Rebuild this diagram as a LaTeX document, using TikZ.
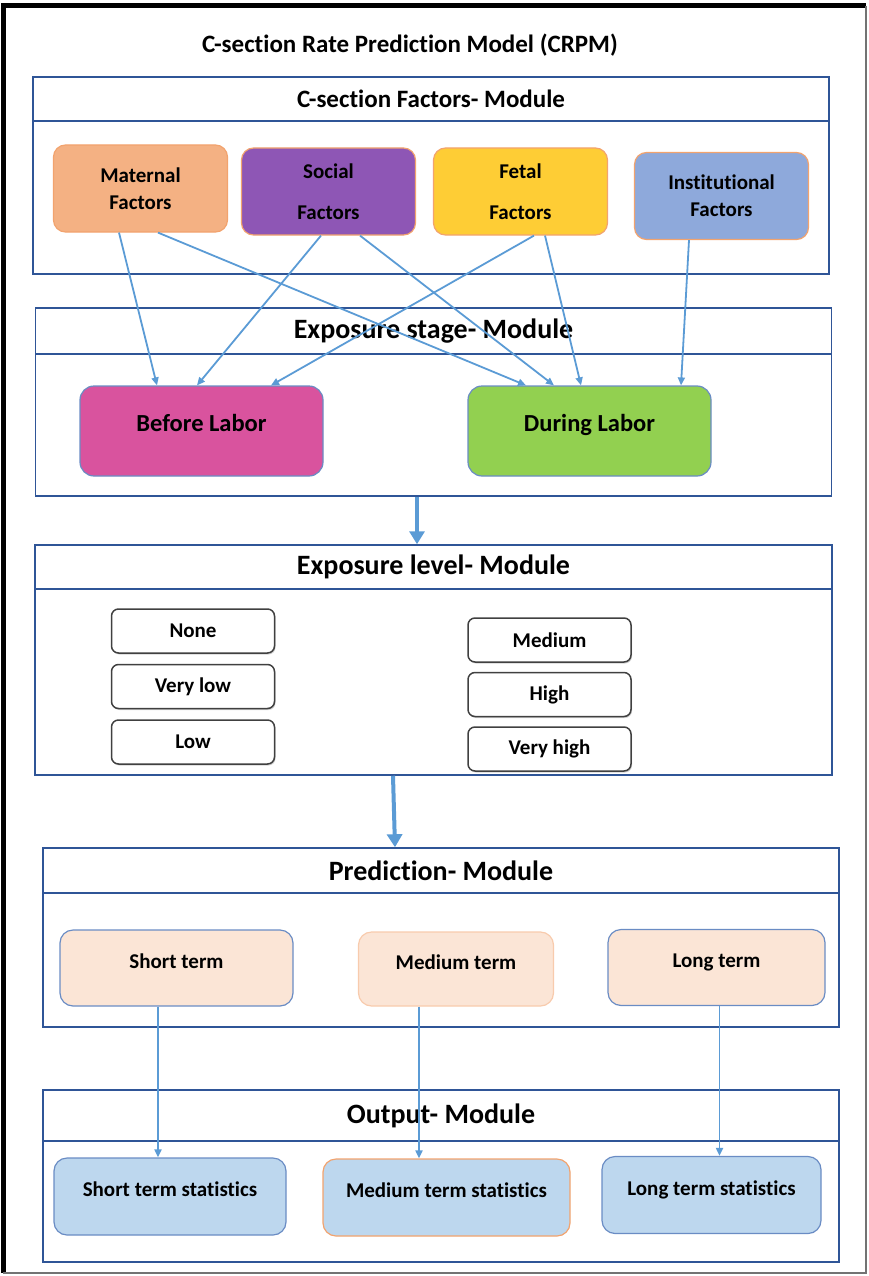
\documentclass[tikz,border=0pt]{standalone}
\usepackage{fontspec}
\setmainfont{Carlito}[Ligatures=NoCommon]
\usepackage{tikz}
\usetikzlibrary{arrows.meta,positioning,shadows}

\definecolor{modblue}{HTML}{2F5597}
\definecolor{arrowblue}{HTML}{5B9BD5}
\definecolor{edgeorange}{HTML}{F2A36E}
\definecolor{edgeblue}{HTML}{6A8CC4}
\definecolor{maternalfill}{HTML}{F4B183}
\definecolor{socialfill}{HTML}{8E56B5}
\definecolor{fetalfill}{HTML}{FECD35}
\definecolor{instfill}{HTML}{8EA9DB}
\definecolor{beforefill}{HTML}{D9539E}
\definecolor{duringfill}{HTML}{92D050}
\definecolor{peach}{HTML}{FBE5D6}
\definecolor{peachline}{HTML}{F8CBAD}
\definecolor{statfill}{HTML}{BDD7EE}

\begin{document}
\begin{tikzpicture}[x=1pt, y=-1pt, >={Triangle[length=8pt,width=7pt]}, node distance=10pt]
\tikzstyle{modhdr}=[draw=modblue, line width=1.5pt, minimum width=796pt, minimum height=44pt, font=\bfseries\fontsize{28}{32}\selectfont]
\tikzstyle{modbody}=[draw=modblue, line width=1.5pt, minimum width=796pt]
\tikzstyle{factor}=[draw=edgeorange, line width=1.2pt, rounded corners=12pt, minimum width=174pt, minimum height=87pt, align=center, font=\bfseries\fontsize{21}{27}\selectfont]
\tikzstyle{stage}=[draw=edgeblue, line width=1.2pt, rounded corners=14pt, minimum width=243pt, minimum height=90pt, text height=17pt, text depth=16pt, font=\bfseries\fontsize{24.5}{28}\selectfont]
\tikzstyle{level}=[draw=black!75, line width=1.5pt, rounded corners=7pt, minimum width=163pt, minimum height=44pt, fill=white, drop shadow={opacity=0.35, shadow xshift=1pt, shadow yshift=-1.5pt}, font=\bfseries\fontsize{21}{25}\selectfont]
\tikzstyle{term}=[draw=edgeblue, line width=1.2pt, rounded corners=13pt, fill=peach, minimum height=76pt, text height=15pt, text depth=15pt, font=\bfseries\fontsize{21}{25}\selectfont]
\tikzstyle{stat}=[draw=edgeblue, line width=1.2pt, rounded corners=13pt, fill=statfill, minimum height=77pt, text height=15pt, text depth=15pt, font=\bfseries\fontsize{21}{25}\selectfont]
\tikzstyle{link}=[->, draw=arrowblue, line width=1.8pt]
\tikzstyle{bigarrow}=[-{Triangle[length=13pt,width=15pt]}, draw=arrowblue, line width=4pt]

\useasboundingbox (0,0) rectangle (868,1276);
\draw[line width=5pt] (3,1273) -- (3,6) -- (866,6);
\draw[black!55, line width=1.2pt] (3,1273) -- (866,1273) -- (866,6);

\node[font=\bfseries\fontsize{25}{30}\selectfont] (title) at (410,45) {C-section Rate Prediction Model (CRPM)};

% factors module
\node[modhdr, font=\bfseries\fontsize{25}{29}\selectfont] (facthdr) at (431,99) {C-section Factors- Module};
\node[modbody, minimum height=153pt] (factbody) at (431,197.5) {};
\node[factor, fill=maternalfill] (maternal) at (140.5,188.5) {Maternal\\Factors};
\node[factor, fill=socialfill]   (social)   at (328.5,191.5) {Social\\[14pt]Factors};
\node[factor, fill=fetalfill]    (fetal)    at (520.5,191.5) {Fetal\\[14pt]Factors};
\node[factor, fill=instfill]     (inst)     at (721.5,196)   {Institutional\\Factors};

% exposure stage module
\node[modhdr, minimum height=46pt] (stagehdr) at (433.5,331) {Exposure stage- Module};
\node[modbody, minimum height=142pt] (stagebody) at (433.5,425) {};
\node[stage, fill=beforefill] (before) at (201.5,431) {Before Labor};
\node[stage, fill=duringfill] (during) at (589.5,431) {During Labor};

\path
([xshift=-21.5pt]maternal.south) edge[link] ([xshift=-44.5pt]before.north)
([xshift=17.5pt]maternal.south)  edge[link] ([xshift=-63.5pt]during.north)
([xshift=-7.5pt]social.south)    edge[link] ([xshift=-4.5pt]before.north)
([xshift=31.5pt]social.south)    edge[link] ([xshift=-35.5pt]during.north)
([xshift=13.5pt]fetal.south)     edge[link] ([xshift=69.5pt]before.north)
([xshift=24.5pt]fetal.south)     edge[link] ([xshift=-8.5pt]during.north)
([xshift=-32.5pt]inst.south)     edge[link] ([xshift=91.5pt]during.north);

% exposure level module
\node[modhdr, minimum width=797pt] (levelhdr) at (433.5,567) {Exposure level- Module};
\node[modbody, minimum width=797pt, minimum height=186pt] (levelbody) at (433.5,682) {};
\node[level] (none)     at (193,631) {None};
\node[level] (verylow)  [below=of none]    {Very low};
\node[level] (low)      [below=of verylow] {Low};
\node[level] (medium)   at (549.5,640) {Medium};
\node[level] (high)     [below=9pt of medium] {High};
\node[level] (veryhigh) [below=9pt of high]   {Very high};

\draw[bigarrow] ([xshift=-16.5pt]stagebody.south) -- ([xshift=-16.5pt]levelhdr.north);

% prediction module
\node[modhdr, minimum height=45pt] (predhdr) at (441,870.5) {Prediction- Module};
\node[modbody, minimum height=134pt] (predbody) at (441,960) {};
\node[term, minimum width=233pt] (shortterm) at (176.5,968) {Short term};
\node[term, minimum width=195pt, draw=peachline, minimum height=74pt] (medterm) at (456,969) {Medium term};
\node[term, minimum width=217pt] (longterm) at (716.5,967.5) {Long term};

\draw[bigarrow] ([xshift=-40.5pt]levelbody.south) -- ([xshift=-46pt]predhdr.north);

% output module
\node[modhdr, minimum height=51pt] (outhdr) at (441,1115.5) {Output- Module};
\node[modbody, minimum height=121pt] (outbody) at (441,1201.5) {};
\node[stat, minimum width=232pt] (shortstat) at (170,1196.5) {Short term statistics};
\node[stat, minimum width=247pt, draw=edgeorange] (medstat) at (446.5,1197.5) {Medium term statistics};
\node[stat, minimum width=219pt] (longstat) at (711.5,1195) {Long term statistics};

\path
([xshift=-18.5pt]shortterm.south) edge[link] ([xshift=-12pt]shortstat.north)
([xshift=-37pt]medterm.south)     edge[link] ([xshift=-27.5pt]medstat.north)
([xshift=3pt]longterm.south)      edge[link] ([xshift=8pt]longstat.north);

\end{tikzpicture}
\end{document}
